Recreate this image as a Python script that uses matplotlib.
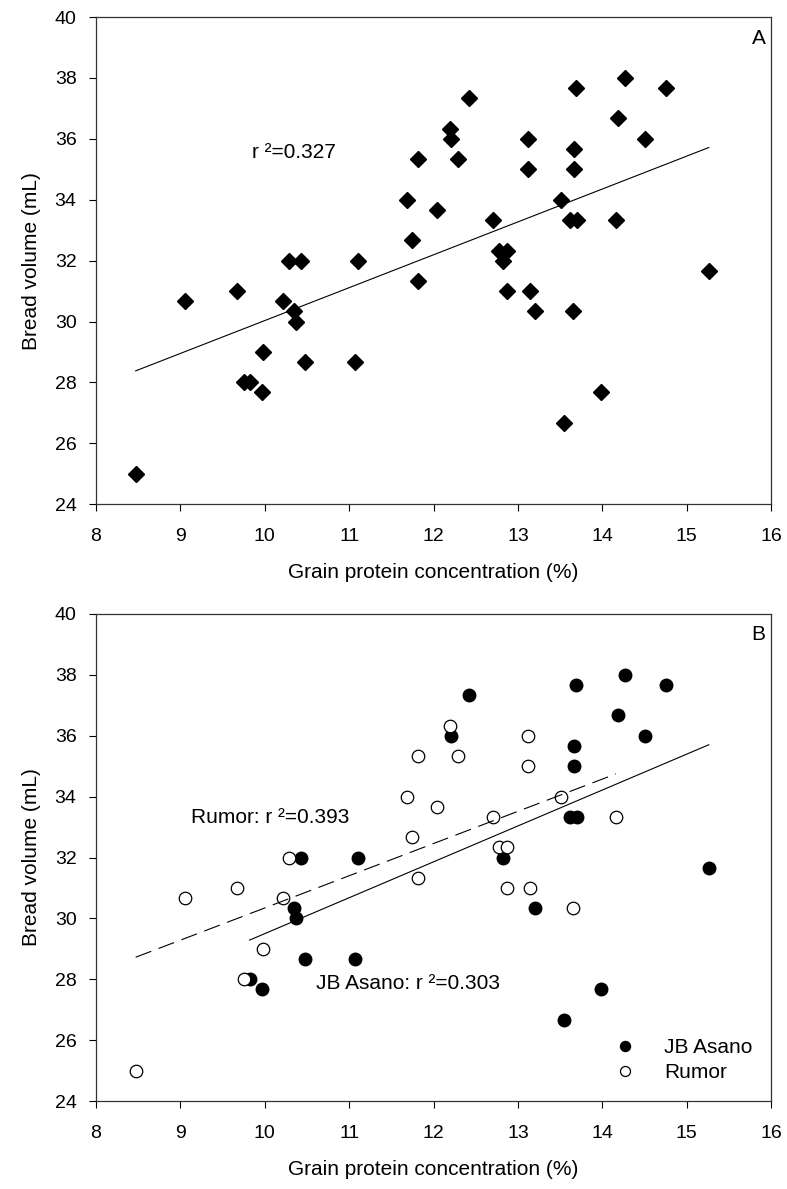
import numpy as np
import matplotlib
matplotlib.use("Agg")
import matplotlib.pyplot as plt

plt.rcParams['font.family'] = ['Liberation Sans', 'DejaVu Sans']

# JB Asano (filled)
asano_x = [12.21, 12.42, 13.69, 14.27, 14.75, 14.18, 14.50, 13.66, 13.66, 13.61,
           13.70, 10.43, 11.10, 10.34, 10.37, 10.48, 11.07, 9.82, 9.97, 12.82,
           13.20, 15.26, 13.98, 13.54]
asano_y = [36.0, 37.33, 37.67, 38.0, 37.67, 36.67, 36.0, 35.67, 35.0, 33.33,
           33.33, 32.0, 32.0, 30.33, 30.0, 28.67, 28.67, 28.0, 27.67, 32.0,
           30.33, 31.67, 27.67, 26.67]

# Rumor (open)
rumor_x = [8.47, 9.05, 9.67, 9.75, 9.98, 10.21, 10.29, 11.68, 11.74, 11.81,
           11.81, 12.04, 12.19, 12.29, 12.70, 12.78, 12.87, 12.87, 13.12, 13.12,
           13.14, 13.51, 13.65, 14.16]
rumor_y = [25.0, 30.67, 31.0, 28.0, 29.0, 30.67, 32.0, 34.0, 32.67, 35.33,
           31.33, 33.67, 36.33, 35.33, 33.33, 32.33, 32.33, 31.0, 36.0, 35.0,
           31.0, 34.0, 30.33, 33.33]

all_x = asano_x + rumor_x
all_y = asano_y + rumor_y


def fit_line(x, y):
    x = np.array(x)
    m, b = np.polyfit(x, np.array(y), 1)
    xs = np.array([x.min(), x.max()])
    return xs, m * xs + b


def style_axes(ax):
    ax.set_xlim(8, 16)
    ax.set_ylim(24, 40)
    ax.set_xticks(range(8, 17))
    ax.set_yticks(range(24, 41, 2))
    ax.tick_params(direction='out', length=5, width=0.8, labelsize=14,
                   top=False, right=False)
    ax.tick_params(axis='x', pad=12)
    ax.tick_params(axis='y', pad=9)
    for s in ax.spines.values():
        s.set_linewidth(0.9)
        s.set_color('#333333')
    ax.set_xlabel("Grain protein concentration (%)", fontsize=15, labelpad=13)
    ax.set_ylabel("Bread volume (mL)", fontsize=15, labelpad=10)


fig = plt.figure(figsize=(7.87, 11.89), dpi=100)
axA = fig.add_axes([0.122, 0.576, 0.858, 0.4096])
axB = fig.add_axes([0.122, 0.074, 0.858, 0.4096])

# Panel A
axA.plot(all_x, all_y, 'D', color='black', markersize=8, linestyle='none')
lx, ly = fit_line(all_x, all_y)
axA.plot(lx, ly, color='black', lw=0.8)
axA.text(9.85, 35.56, "r \u00b2=0.327", fontsize=15, va='center')
axA.text(15.93, 39.3, "A", fontsize=15, ha='right', va='center')
style_axes(axA)

# Panel B
axB.plot(asano_x, asano_y, 'o', color='black', markersize=9,
         linestyle='none', label='JB Asano')
axB.plot(rumor_x, rumor_y, 'o', markerfacecolor='white', markeredgecolor='black',
         markeredgewidth=0.9, markersize=9, linestyle='none', label='Rumor')
lx, ly = fit_line(asano_x, asano_y)
axB.plot(lx, ly, color='black', lw=0.8)
lx, ly = fit_line(rumor_x, rumor_y)
axB.plot(lx, ly, color='black', lw=0.8, dashes=(15, 7))
axB.text(9.13, 33.31, "Rumor: r \u00b2=0.393", fontsize=15, va='center')
axB.text(10.61, 27.86, "JB Asano: r \u00b2=0.303", fontsize=15, va='center')
axB.text(15.93, 39.34, "B", fontsize=15, ha='right', va='center')
axB.legend(loc='lower right', frameon=False, fontsize=15, handletextpad=0.9,
           bbox_to_anchor=(1.0, 0.0), markerscale=0.8, labelspacing=0.3)
style_axes(axB)

fig.savefig("out.png", dpi=100)
